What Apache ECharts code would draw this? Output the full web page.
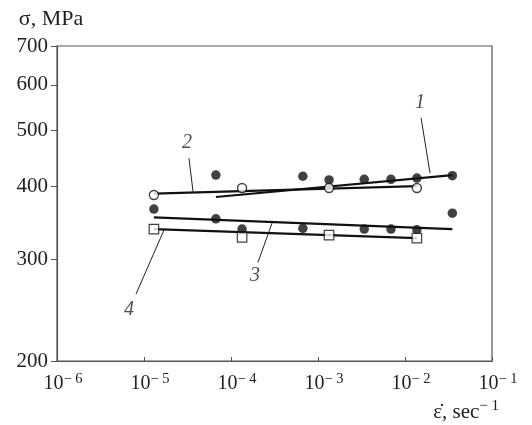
<!DOCTYPE html>
<html>
<head>
<meta charset="utf-8">
<script src="https://cdn.jsdelivr.net/npm/echarts@6/dist/echarts.min.js"></script>
<style>html,body{margin:0;padding:0;background:#fff}#c{width:532px;height:425px}</style>
</head>
<body>
<div id="c"></div>
<script>
// ---- axis ticks ----
const xTicks = [1e-6, 1e-5, 1e-4, 1e-3, 1e-2, 1e-1];
const yTicks = [200, 300, 400, 500, 600, 700];

// ---- measured points ----
// filled circles, upper group (curve 1)
const filledUpperRate = [6.7e-5, 6.7e-4, 1.34e-3, 3.4e-3, 6.9e-3, 1.37e-2, 3.5e-2];
const filledUpperStress = [419, 417, 411, 412, 412, 414, 418];
// filled circles, lower group (curve 3)
const filledLowerRate = [1.3e-5, 6.7e-5, 1.34e-4, 6.7e-4, 3.4e-3, 6.9e-3, 1.37e-2, 3.5e-2];
const filledLowerStress = [366, 352, 338, 339, 338, 338, 337, 360];
// open circles (curve 2)
const openCircleRate = [1.3e-5, 1.34e-4, 1.34e-3, 1.37e-2];
const openCircleStress = [387, 398, 398, 398];
// open squares (curve 4)
const squareRate = [1.3e-5, 1.34e-4, 1.34e-3, 1.37e-2];
const squareStress = [338, 327, 330, 326];

// ---- fitted lines (end points) ----
const line1Rate = [6.7e-5, 3.5e-2], line1Stress = [384, 419];
const line2Rate = [1.3e-5, 1.37e-2], line2Stress = [389, 401];
const line3Rate = [1.3e-5, 3.5e-2], line3Stress = [354, 338];
const line4Rate = [1.3e-5, 1.37e-2], line4Stress = [338, 326];

// ---- curve labels and leader lines ----
const curveNames = ['1', '2', '3', '4'];
const labelRate = [1.49e-2, 3.12e-5, 1.89e-4, 6.73e-6];
const labelStress = [558, 476, 281, 245];
const leaderRate = [[1.53e-2, 1.94e-2], [3.29e-5, 3.66e-5], [2.04e-4, 2.96e-4], [8.1e-6, 1.70e-5]];
const leaderStress = [[526, 422], [448, 392], [296, 346], [261, 337]];

const FONT = 'Liberation Serif';
const zip = (xs, ys) => xs.map((x, i) => [x, ys[i]]);

const fitSeries = [[line1Rate, line1Stress], [line2Rate, line2Stress], [line3Rate, line3Stress], [line4Rate, line4Stress]]
  .map(([xs, ys]) => ({
    type: 'line', data: zip(xs, ys), symbol: 'none', silent: true,
    lineStyle: { color: '#111', width: 2.2 }, z: 3
  }));

const leaderSeries = leaderRate.map((xs, i) => ({
  type: 'line', data: zip(xs, leaderStress[i]), symbol: 'none', silent: true,
  lineStyle: { color: '#222', width: 1 }, z: 2
}));

const chart = echarts.init(document.getElementById('c'), null, { renderer: 'canvas' });
chart.setOption({
  backgroundColor: '#fff',
  animation: false,
  grid: { left: 57, right: 40, top: 46, bottom: 64, show: true, borderColor: '#555', borderWidth: 1.2 },
  xAxis: {
    type: 'log', logBase: 10, min: 1e-6, max: 1e-1,
    axisLine: { show: true, lineStyle: { color: '#555', width: 1.2 } },
    axisTick: { show: true, inside: true, length: 4, lineStyle: { color: '#555' }, customValues: xTicks },
    splitLine: { show: false },
    axisLabel: {
      customValues: xTicks, margin: 11, color: '#222', fontFamily: FONT,
      formatter: v => '{b|10}{s|\u2212 ' + Math.round(-Math.log10(v)) + '}',
      padding: [0, 0, 0, 12],
      rich: {
        b: { fontFamily: FONT, fontSize: 20, color: '#222' },
        s: { fontFamily: FONT, fontSize: 14.5, color: '#222', padding: [0, 0, 9, 0] }
      }
    }
  },
  yAxis: {
    type: 'log', logBase: 10, min: 200, max: 700,
    name: '\u03c3, MPa', nameLocation: 'end', nameGap: 16,
    nameTextStyle: { fontFamily: FONT, fontSize: 22, color: '#222', align: 'center', padding: [0, 12, 0, 0] },
    axisLine: { show: true, lineStyle: { color: '#555', width: 1.2 } },
    axisTick: { show: true, inside: false, length: 6, lineStyle: { color: '#555' }, customValues: yTicks },
    splitLine: { show: false },
    axisLabel: { customValues: yTicks, margin: 9, color: '#222', fontFamily: FONT, fontSize: 21,
      formatter: v => String(Math.round(v)) }
  },
  graphic: [{
    type: 'text', right: 33, top: 399,
    style: {
      text: '{b|\u03b5\u0307, sec}{s|\u2212 1}',
      rich: {
        b: { fontFamily: FONT, fontSize: 21, fill: '#222' },
        s: { fontFamily: FONT, fontSize: 15, fill: '#222', padding: [0, 0, 11, 0] }
      }
    }
  }],
  series: [
    ...fitSeries,
    ...leaderSeries,
    { type: 'scatter', data: zip(filledUpperRate, filledUpperStress), symbol: 'circle', symbolSize: 9.5,
      itemStyle: { color: '#111' }, z: 5 },
    { type: 'scatter', data: zip(filledLowerRate, filledLowerStress), symbol: 'circle', symbolSize: 9.5,
      itemStyle: { color: '#111' }, z: 5 },
    { type: 'scatter', data: zip(openCircleRate, openCircleStress), symbol: 'circle', symbolSize: 9,
      itemStyle: { color: '#fff', borderColor: '#111', borderWidth: 1.4 }, z: 6 },
    { type: 'scatter', data: zip(squareRate, squareStress), symbol: 'rect', symbolSize: 9.5,
      itemStyle: { color: '#fff', borderColor: '#111', borderWidth: 1.2 }, z: 6 },
    { type: 'scatter', symbolSize: 0, silent: true, z: 7,
      data: curveNames.map((n, i) => ({ name: n, value: [labelRate[i], labelStress[i]] })),
      label: { show: true, position: 'inside', formatter: p => p.name,
        fontFamily: FONT, fontStyle: 'italic', fontSize: 20, color: '#222' } }
  ]
});
</script>
</body>
</html>
